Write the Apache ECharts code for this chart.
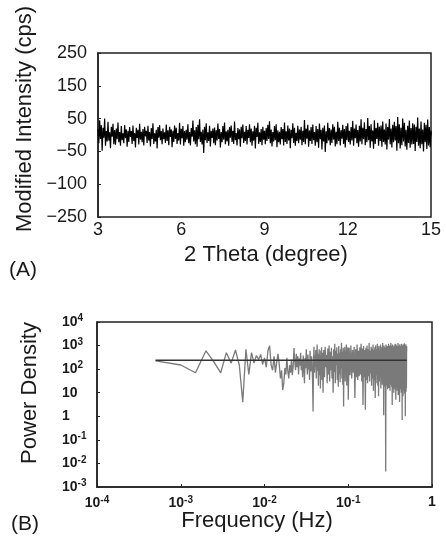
<!DOCTYPE html>
<html>
<head>
<meta charset="utf-8">
<script src="https://cdn.jsdelivr.net/npm/echarts@6/dist/echarts.min.js"></script>
<style>
html,body{margin:0;padding:0;background:#fff;}
#chart{width:446px;height:545px;}
</style>
</head>
<body>
<div id="chart"></div>
<script>
// ---------- Panel A data: modified intensity noise (cps) over 2θ = 3..15 ----------
const thetaStart = 3;
const thetaEnd = 15;
const thetaTicks = [3, 6, 9, 12, 15];
const intensityTickLabels = ['\u2212250', '\u2212100', '\u221250', '50', '150', '250'];
const intensity = [
  18,-25,45,-12,30,-48,22,-8,50,-33,12,-20,40,-17,8,-40,25,-5,34,-28,
  15,-30,20,-13,38,-22,9,-33,27,-16,5,-25,30,-10,17,-36,13,-21,24,-6,
  12,-27,29,-18,6,-38,22,-9,16,-29,34,-14,10,-22,18,-32,25,-4,13,-24,
  28,-17,9,-35,21,-12,36,-27,5,-20,16,-41,24,-8,30,-16,12,-28,20,-13,
  8,-24,32,-18,14,-31,25,-6,17,-37,13,-21,29,-12,22,-27,6,-17,37,-29,
  19,-10,27,-33,12,-22,16,-14,33,-25,9,-32,21,-5,44,-20,14,-28,24,-36,
  31,-13,48,-21,10,-29,17,-55,25,-16,36,-24,8,-18,28,-35,13,-9,20,-25,
  23,-31,14,-17,35,-12,18,-38,9,-22,27,-14,38,-28,11,-20,16,-33,24,-8,
  29,-21,13,-27,41,-16,6,-32,21,-13,17,-36,25,-10,32,-24,10,-18,27,-29,
  16,-9,33,-22,20,-33,11,-17,28,-41,22,-6,37,-27,8,-21,18,-31,25,-14,
  13,-28,21,-18,31,-12,42,-25,17,-35,9,-20,27,-16,33,-37,14,-22,10,-29,
  24,-13,18,-32,38,-21,11,-27,29,-17,20,-40,16,-10,36,-24,22,-33,7,-18,
  28,-25,17,-14,25,-31,13,-21,46,-28,20,-11,31,-36,14,-18,24,-27,32,-16,
  9,-33,27,-22,18,-39,35,-13,16,-44,22,-20,29,-52,11,-25,37,-17,21,-31,
  17,-24,33,-14,25,-35,10,-28,40,-18,22,-32,14,-11,31,-27,18,-38,27,-16,
  36,-21,13,-29,24,-17,43,-33,20,-10,32,-25,15,-36,28,-20,48,-28,22,-13,
  39,-31,18,-22,52,-16,27,-39,33,-20,14,-42,45,-27,21,-12,37,-33,25,-18,
  29,-36,41,-21,17,-29,35,-44,24,-14,49,-28,20,-38,31,-22,40,-17,27,-48,
  55,-25,33,-41,22,-31,50,-20,37,-35,16,-45,28,-24,44,-39,21,-29,36,-27,
  32,-49,25,-21,53,-33,20,-40,41,-28,17,-50,37,-22,31,-43,47,-32,24,-37,
  14
];

// ---------- Panel B data: power spectral density vs frequency ----------
const binWidthHz = 0.0005;           // frequency resolution of the spectrum
// bins 1..100 (every bin)
const psdValuesLow = [
  225,150,70,600,200,70,500,180,650,150,
  4,700,60,500,180,380,250,420,160,300,
  120,600,1000,150,90,350,70,200,450,160,
  40,90,13,25,110,60,300,80,40,150,
  70,250,55,130,780,200,90,450,120,350,
  60,280,140,500,90,220,45,380,150,25,
  300,110,700,180,60,420,95,250,35,600,
  140,80,350,200,30,1.6,180,900,70,400,
  120,650,40,300,1100,85,450,20,250,700,
  55,380,15,600,130,850,35,500,200,10
];
// bins 102..200 (every 2nd bin)
const psdValuesMid = [
  650,45,900,120,400,25,750,60,1000,30,
  550,90,800,40,350,10,700,75,1200,25,
  600,150,850,35,450,18,950,60,500,28,
  700,110,1300,40,550,22,800,2.6,650,50,
  900,30,600,85,1100,20,700,45,850,5
];
// bins 205..1000 (every 5th bin)
const psdValuesHigh = [
  800,55,1000,40,650,70,900,6,700,45,
  1100,35,600,50,850,60,1200,30,750,3,
  950,45,650,1.9,800,35,1000,25,700,50,
  1300,30,600,65,900,20,750,40,1100,12,
  650,35,850,6,1000,25,700,55,1200,20,
  800,7,950,30,600,45,1100,15,750,35,
  900,22,1300,28,700,1.1,1000,18,850,40,
  750,0.0045,1100,20,650,35,950,14,800,25,
  1200,16,700,30,1000,12,850,22,1300,28,
  750,18,950,3,1100,15,650,35,900,10,
  1000,20,800,14,1200,25,700,5,1100,18,
  850,28,950,12,750,22,1300,8,900,16,
  1000,24,700,4,1150,20,850,14,950,26,
  800,10,1200,15,750,0.7,1000,20,900,7,
  1100,18,800,12,950,24,1250,9,850,16,
  1000,1.0,900,19,1150,11,800,16,950,600
];
const meanPower = 240;
const freqMin = 0.0005, freqMax = 0.5;

// ---------- build series data ----------
const stepA = (thetaEnd - thetaStart) / (intensity.length - 1);
const dataA = intensity.map((v, i) => [thetaStart + i * stepA, v]);

const dataB = [];
psdValuesLow.forEach((v, i) => dataB.push([(1 + i) * binWidthHz, v]));
psdValuesMid.forEach((v, i) => dataB.push([(102 + 2 * i) * binWidthHz, v]));
psdValuesHigh.forEach((v, i) => dataB.push([(205 + 5 * i) * binWidthHz, v]));

const FONT = "'Liberation Sans', Arial, Helvetica, sans-serif";
const INK = '#1a1a1a';
const FRAME = '#222';

function powLabel(v) {
  const e = Math.round(Math.log10(v));
  if (e === 0) return '{b|1}';
  if (e === 1) return '{b|10}';
  return '{b|10}{s|' + e + '}';
}
const powRich = {
  b: { fontSize: 14, fontWeight: 'bold', color: INK, fontFamily: FONT },
  s: { fontSize: 10, fontWeight: 'bold', color: INK, fontFamily: FONT, padding: [0, 0, 7, 0] }
};

const chart = echarts.init(document.getElementById('chart'), null, { renderer: 'canvas' });
chart.setOption({
  animation: false,
  backgroundColor: '#fff',
  grid: [
    { left: 98, top: 53, width: 333, height: 164, show: true, borderColor: FRAME, borderWidth: 1.5, backgroundColor: 'transparent' },
    { left: 97, top: 322, width: 335, height: 165, show: true, borderColor: FRAME, borderWidth: 1.5, backgroundColor: 'transparent' }
  ],
  xAxis: [
    {
      gridIndex: 0, type: 'value', min: thetaTicks[0], max: thetaTicks[thetaTicks.length - 1], interval: 3,
      axisLine: { show: true, lineStyle: { color: FRAME, width: 1.5 } },
      axisTick: { show: true, inside: true, length: 3, lineStyle: { color: FRAME } },
      splitLine: { show: false },
      axisLabel: { fontSize: 18, color: INK, margin: 4, fontFamily: FONT }
    },
    {
      gridIndex: 1, type: 'log', logBase: 10, min: 1e-4, max: 1, splitNumber: 4,
      axisLine: { show: true, lineStyle: { color: FRAME, width: 1.5 } },
      axisTick: { show: true, inside: true, length: 3, lineStyle: { color: FRAME } },
      minorTick: { show: false },
      splitLine: { show: false },
      axisLabel: { formatter: powLabel, rich: powRich, margin: 8 }
    }
  ],
  yAxis: [
    {
      gridIndex: 0, type: 'value', min: -250, max: 250, interval: 100,
      axisLine: { show: true, lineStyle: { color: FRAME, width: 1.5 } },
      axisTick: { show: true, inside: true, length: 3, lineStyle: { color: FRAME } },
      splitLine: { show: false },
      axisLabel: {
        fontSize: 18, color: INK, margin: 11, fontFamily: FONT,
        formatter: function (v) {
          const idx = Math.round((v + 250) / 100);
          return intensityTickLabels[idx] !== undefined ? intensityTickLabels[idx] : '';
        }
      }
    },
    {
      gridIndex: 1, type: 'log', logBase: 10, min: 1e-3, max: 1e4, splitNumber: 7,
      axisLine: { show: true, lineStyle: { color: FRAME, width: 1.5 } },
      axisTick: { show: true, inside: true, length: 3, lineStyle: { color: FRAME } },
      minorTick: { show: false },
      splitLine: { show: false },
      axisLabel: { formatter: powLabel, rich: powRich, align: 'left', margin: 35 }
    }
  ],
  series: [
    {
      type: 'line', xAxisIndex: 0, yAxisIndex: 0, data: dataA,
      showSymbol: false, symbol: 'none', sampling: null,
      lineStyle: { color: '#000', width: 1.2 }, z: 3
    },
    {
      type: 'line', xAxisIndex: 1, yAxisIndex: 1, data: dataB,
      showSymbol: false, symbol: 'none',
      lineStyle: { color: '#7a7a7a', width: 1.3 }, z: 3
    },
    {
      type: 'line', xAxisIndex: 1, yAxisIndex: 1,
      data: [[freqMin, meanPower], [freqMax, meanPower]],
      showSymbol: false, symbol: 'none',
      lineStyle: { color: '#333', width: 1.5 }, z: 4
    }
  ],
  graphic: [
    { type: 'text', x: 25, y: 119, rotation: Math.PI / 2,
      style: { text: 'Modified Intensity (cps)', font: "22px " + FONT, fill: INK, textAlign: 'center', textVerticalAlign: 'middle' } },
    { type: 'text', x: 266, y: 255,
      style: { text: '2 Theta (degree)', font: "22px " + FONT, fill: INK, textAlign: 'center', textVerticalAlign: 'middle' } },
    { type: 'text', x: 9, y: 270,
      style: { text: '(A)', font: "21px " + FONT, fill: INK, textAlign: 'left', textVerticalAlign: 'middle' } },
    { type: 'text', x: 30, y: 393, rotation: Math.PI / 2,
      style: { text: 'Power Density', font: "22px " + FONT, fill: INK, textAlign: 'center', textVerticalAlign: 'middle' } },
    { type: 'text', x: 257, y: 521,
      style: { text: 'Frequency (Hz)', font: "22px " + FONT, fill: INK, textAlign: 'center', textVerticalAlign: 'middle' } },
    { type: 'text', x: 11, y: 524,
      style: { text: '(B)', font: "21px " + FONT, fill: INK, textAlign: 'left', textVerticalAlign: 'middle' } }
  ]
});
</script>
</body>
</html>
